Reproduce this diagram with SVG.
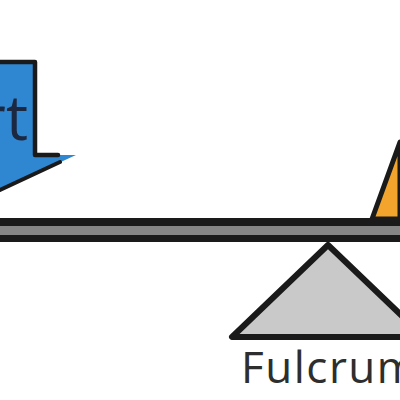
<svg xmlns="http://www.w3.org/2000/svg" width="400" height="400" viewBox="0 0 400 400">
<style>
.outline{stroke:#1a1a1a;stroke-linejoin:round;stroke-linecap:round}
.label{font-family:"Open Sans","Liberation Sans",sans-serif}
</style>
<rect width="400" height="400" fill="#ffffff"/>
<g id="effort">
<polygon points="0,62 35,62 35,155 76,155 0,190" fill="#2f87d1"/>
<path d="M0,62 H35 V155 H58" fill="none" class="outline" stroke-width="4.5"/>
<path d="M60,162 L0,190" fill="none" class="outline" stroke-width="4"/>
<text x="28" y="140" text-anchor="end" class="label" font-size="62" fill="#1c2740">Effort</text>
</g>
<g id="load">
<polygon points="372,219 400,142 400,219" fill="#f2a42c" class="outline" stroke-width="5"/>
</g>
<g id="lever">
<rect x="-5" y="218" width="410" height="24" fill="#1a1a1a"/>
<rect x="-5" y="226" width="410" height="9" fill="#868686"/>
</g>
<g id="fulcrum">
<polygon points="328,245 232,337 424,337" fill="#c9c9c9" class="outline" stroke-width="6"/>
<text x="241" y="383" class="label" font-size="44" letter-spacing="1.5" fill="#2e2e2e">Fulcrum</text>
</g>
</svg>
